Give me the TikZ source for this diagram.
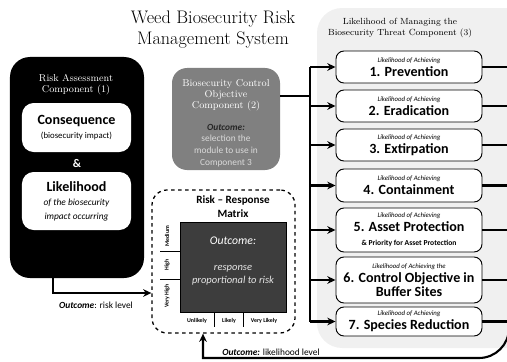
\documentclass[tikz,border=0pt]{standalone}
\usepackage{fontspec}
\newfontfamily\bodyfont{Carlito}
\usetikzlibrary{arrows.meta, positioning}
\definecolor{panelgray}{HTML}{F0F0F0}
\definecolor{ctrlgray}{HTML}{808080}
\definecolor{gridgray}{HTML}{3D3D3D}
\definecolor{paletext}{HTML}{DADADA}
\newcommand{\achieving}[1]{{\fontsize{5.8}{7}\selectfont\itshape #1}}
\newcommand{\stagename}[1]{{\fontsize{12}{14}\selectfont\bfseries #1}}

\begin{document}
\begin{tikzpicture}[>=Stealth, x=0.3mm, y=-0.3mm,
    hand/.style={font=\fontsize{8.5}{9.5}\selectfont, align=center, inner sep=0pt},
    body/.style={font=\bodyfont, align=center, inner sep=0pt},
    link/.style={line width=1.8pt},
    arr/.style={link, -{Stealth[length=7pt, width=6.5pt]}},
    innerbox/.style={fill=white, rounded corners=3.5mm, minimum width=32.7mm, inner sep=0pt, align=center, font=\bodyfont},
    stagebox/.style={draw, line width=0.8pt, fill=white, rounded corners=2.4mm, minimum width=43.8mm, inner sep=0pt, align=center, font=\bodyfont},
    axis/.style={font=\bodyfont\bfseries\fontsize{5}{6}\selectfont, inner sep=0pt},
  ]
  \useasboundingbox (0,0) rectangle (507,362);
  \clip (0,0) rectangle (507,362);

  % title
  \node[hand, font=\fontsize{15.5}{18}\selectfont] (title) at (213,30) {Weed Biosecurity Risk\\Management System};

  % component 3 panel
  \fill[panelgray, rounded corners=7.5mm] (317,8) rectangle (560,348);
  \node[hand, font=\fontsize{7.6}{9}\selectfont] (panelTitle) at (400,28) {Likelihood of Managing the\\Biosecurity Threat Component (3)};

  % component 1
  \node[fill=black, rounded corners=6mm, minimum width=40.2mm, minimum height=66.3mm, inner sep=0pt] (assess) at (77,167.5) {};
  \node[hand, white] (assessTitle) at (76,85) {Risk Assessment\\Component (1)};
  \node[innerbox, minimum height=14.7mm] (conseq) at (76.5,127.5)
    {{\fontsize{12}{14}\selectfont\bfseries Consequence}\\{\fontsize{7.5}{9}\selectfont (biosecurity impact)}};
  \node[body, white, font=\bodyfont\bfseries\fontsize{10}{12}\selectfont] (amp) at (77,163) {\&};
  \node[innerbox, minimum height=17.4mm] (likely) at (76.5,201)
    {{\fontsize{12}{14}\selectfont\bfseries Likelihood}\\{\fontsize{8}{10}\selectfont\itshape of the biosecurity}\\{\fontsize{8}{10}\selectfont\itshape impact occurring}};

  % component 2
  \node[fill=ctrlgray, rounded corners=4.5mm, minimum width=32.4mm, minimum height=30.6mm, inner sep=0pt] (ctrl) at (226,119) {};
  \node[hand, white] (ctrlTitle) at (226,95) {Biosecurity Control\\Objective\\Component (2)};
  \node[body, font=\bodyfont\bfseries\itshape\fontsize{8}{10}\selectfont, text=black!85] (ctrlOut) at (226,127) {Outcome:};
  \node[body, font=\bodyfont\fontsize{8}{10}\selectfont, text=paletext] (ctrlText) at (226,151) {selection the\\module to use in\\Component 3};

  % risk - response matrix
  \node[draw, dashed, line width=1.1pt, rounded corners=4.5mm, minimum width=42.9mm, minimum height=42.9mm] (rrm) at (223.5,261.5) {};
  \node[body, font=\bodyfont\bfseries\fontsize{9.5}{12}\selectfont] (rrmTitle) at (233,207) {Risk – Response\\Matrix};
  \node[draw, fill=gridgray, minimum width=31.8mm, minimum height=27mm, inner sep=0pt] (rrmGrid) at (233,267) {};
  \node[body, text=white, font=\bodyfont\itshape\fontsize{10}{12}\selectfont] (gridOut) at (233,241) {Outcome:};
  \node[body, text=white!90!black, font=\bodyfont\itshape\fontsize{9}{11}\selectfont] (gridText) at (233,275) {response\\proportional to risk};
  \foreach \lbl/\yy in {Medium/236, High/265, Very High/296}
    \node[axis, rotate=90] at (167,\yy) {\lbl};
  \foreach \yy in {251,279}
    \draw[thin] (160,\yy) -- (180,\yy);
  \foreach \lbl/\xx in {Unlikely/197, Likely/229, Very Likely/264}
    \node[axis] at (\xx,321) {\lbl};
  \foreach \xx in {214,243}
    \draw[thin] (\xx,312) -- (\xx,327);

  % stages of component 3
  \node[stagebox, minimum height=9.6mm] (p1) at (409,67) {\achieving{Likelihood of Achieving}\\\stagename{1. Prevention}};
  \node[stagebox, minimum height=9.6mm] (p2) at (409,106) {\achieving{Likelihood of Achieving}\\\stagename{2. Eradication}};
  \node[stagebox, minimum height=9.6mm] (p3) at (409,145) {\achieving{Likelihood of Achieving}\\\stagename{3. Extirpation}};
  \node[stagebox, minimum height=9.9mm] (p4) at (409,185.5) {\achieving{Likelihood of Achieving}\\\stagename{4. Containment}};
  \node[stagebox, minimum height=13.2mm] (p5) at (409,230) {\achieving{Likelihood of Achieving}\\\stagename{5. Asset Protection}\\{\fontsize{6.5}{8}\selectfont\bfseries \& Priority for Asset Protection}};
  \node[stagebox, minimum height=13.8mm] (p6) at (409,280) {\achieving{Likelihood of Achieving the}\\\stagename{6. Control Objective in}\\\stagename{Buffer Sites}};
  \node[stagebox, minimum height=8.7mm] (p7) at (409,321.5) {\achieving{Likelihood of Achieving}\\\stagename{7. Species Reduction}};

  % connectors
  \coordinate (busX) at (310,0);
  \coordinate (retX) at (509,0);
  \coordinate (busJoin) at (310,96);
  \draw[link] (ctrl.east |- busJoin) -- (busJoin);
  \draw[link] (busX |- p1.west) -- (busX |- p7.west);
  \foreach \i in {1,...,7} {
    \draw[arr] (busX |- p\i.west) -- (p\i.west);
    \draw[link] (p\i.east) -- (retX |- p\i.east);
  }
  \coordinate (riskTurn) at (53,293);
  \draw[arr] (assess.south -| riskTurn) -- (riskTurn) -- (rrm.west |- riskTurn);
  \node[body, font=\bodyfont\fontsize{8}{10}\selectfont] (riskLbl) at (96,305) {\textbf{\textit{Outcome}}: risk level};
  \coordinate (backTurn) at (203,358);
  \draw[arr] (retX |- p1.east) -- (509,328) .. controls (509,344.6) and (495.6,358) .. (479,358) -- (backTurn) -- (rrm.south -| backTurn);
  \node[body, font=\bodyfont\fontsize{8}{10}\selectfont] (backLbl) at (271,352) {\textbf{\textit{Outcome:}} likelihood level};
\end{tikzpicture}
\end{document}
